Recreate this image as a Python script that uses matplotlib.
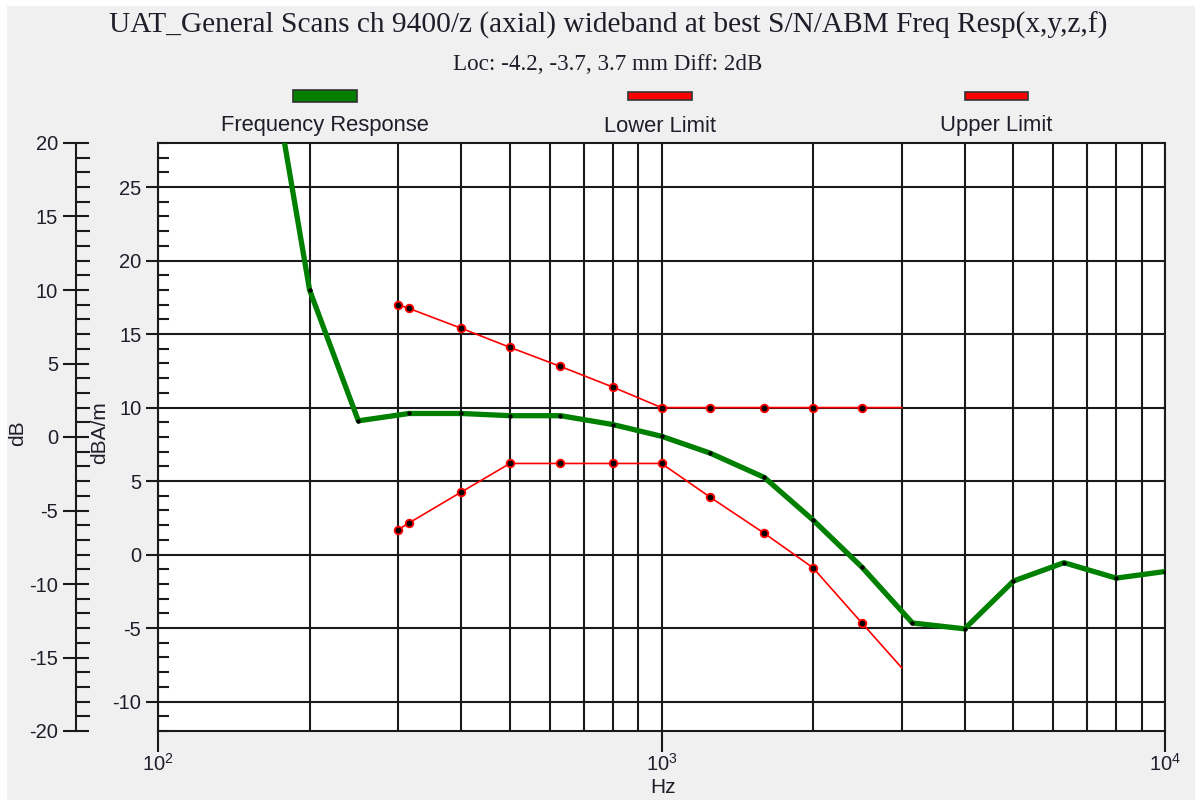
import matplotlib
matplotlib.use('Agg')
import matplotlib.pyplot as plt
from matplotlib.ticker import LogLocator, MultipleLocator, NullFormatter
from matplotlib.patches import Rectangle

# ---------------- data ----------------
freq_resp_hz = [160, 200, 250, 315, 400, 500, 630, 800, 1000, 1250, 1600,
                2000, 2500, 3150, 4000, 5000, 6300, 8000, 10000]
freq_resp_db = [37.5, 18.0, 9.1, 9.6, 9.6, 9.45, 9.45, 8.85, 8.05, 6.9, 5.25,
                2.35, -0.85, -4.65, -5.05, -1.8, -0.55, -1.6, -1.15]

limit_hz = [300, 315, 400, 500, 630, 800, 1000, 1250, 1600, 2000, 2500, 3000]
lower_limit_db = [1.7, 2.15, 4.25, 6.2, 6.2, 6.2, 6.2, 3.9, 1.45, -0.9, -4.65, -7.7]
upper_limit_db = [17.0, 16.75, 15.4, 14.1, 12.8, 11.4, 10.0, 10.0, 10.0, 10.0, 10.0, 10.0]

legend_labels = ["Frequency Response", "Lower Limit", "Upper Limit"]
title_text = "UAT_General Scans ch 9400/z (axial) wideband at best S/N/ABM Freq Resp(x,y,z,f)"
subtitle_text = "Loc: -4.2, -3.7, 3.7 mm Diff: 2dB"

# ---------------- style ----------------
plt.rcParams['font.family'] = ['Liberation Sans', 'DejaVu Sans']
plt.rcParams['mathtext.fontset'] = 'custom'
plt.rcParams['mathtext.rm'] = 'Liberation Sans'
plt.rcParams['mathtext.it'] = 'Liberation Sans'
plt.rcParams['axes.unicode_minus'] = False
TXT = '#1e1e2a'
LINE = '#1a1a1a'
GREEN = '#008000'
RED = '#ff0000'

W, H = 1195, 800
fig = plt.figure(figsize=(W / 100, H / 100), dpi=100, facecolor='white')
fig.patches.append(Rectangle((7 / W, 0), 1, (H - 6) / H, transform=fig.transFigure,
                             facecolor='#f0f0f0', edgecolor='none', zorder=-10))

def px(x, y):
    return x / W, 1 - y / H

ax = fig.add_axes([158 / W, (H - 731) / H, (1165 - 158) / W, (731 - 143) / H])
ax.set_facecolor('white')
ax.set_xscale('log')
ax.set_xlim(100, 10000)
ax.set_ylim(-12, 28)

ax.xaxis.set_major_locator(LogLocator(base=10))
ax.xaxis.set_minor_locator(LogLocator(base=10, subs=range(2, 10)))
ax.xaxis.set_minor_formatter(NullFormatter())
ax.yaxis.set_major_locator(MultipleLocator(5))
ax.yaxis.set_minor_locator(MultipleLocator(1))

ax.grid(which='both', axis='x', color=LINE, lw=1.5)
ax.grid(which='major', axis='y', color=LINE, lw=1.5)
for s in ax.spines.values():
    s.set_color(LINE)
    s.set_linewidth(1.5)

ax.tick_params(axis='x', which='major', direction='out', length=15, width=1.5,
               color=LINE, labelsize=14.5, labelcolor=TXT, pad=0.5)
ax.tick_params(axis='x', which='minor', length=0)
ax.tick_params(axis='y', which='major', direction='out', length=9, width=1.5,
               color=LINE, labelsize=14.5, labelcolor=TXT, pad=3)
ax.tick_params(axis='y', which='minor', direction='in', length=8, width=1.5, color=LINE)

# curves
ax.plot(limit_hz, lower_limit_db, color=RED, lw=1.2, marker='o', ms=5.5,
        mfc='black', mec=RED, mew=1.3, markevery=list(range(len(limit_hz) - 1)),
        zorder=3, clip_on=True)
ax.plot(limit_hz, upper_limit_db, color=RED, lw=1.2, marker='o', ms=5.5,
        mfc='black', mec=RED, mew=1.3, markevery=list(range(len(limit_hz) - 1)),
        zorder=3, clip_on=True)
ax.plot(freq_resp_hz, freq_resp_db, color=GREEN, lw=3.8, marker='o', ms=3.2,
        mfc='black', mec='black', mew=0, zorder=4, clip_on=True,
        solid_joinstyle='round')

# outer dB axis
ax2 = ax.twinx()
ax2.set_ylim(-20, 20)
ax2.spines['left'].set_position(('axes', -82 / 1007))
ax2.spines['left'].set_visible(True)
ax2.spines['left'].set_color(LINE)
ax2.spines['left'].set_linewidth(1.5)
for k in ('right', 'top', 'bottom'):
    ax2.spines[k].set_visible(False)
ax2.yaxis.set_ticks_position('left')
ax2.yaxis.set_major_locator(MultipleLocator(5))
ax2.yaxis.set_minor_locator(MultipleLocator(1))
ax2.tick_params(axis='y', which='major', direction='inout', length=19, width=1.5,
                color=LINE, labelsize=14.5, labelcolor=TXT, pad=3.3)
ax2.tick_params(axis='y', which='minor', direction='in', length=10, width=1.5, color=LINE)

# axis labels
fig.text(*px(18, 433), 'dB', rotation=90, ha='center', va='center', size=15, color=TXT)
fig.text(*px(100, 433), 'dBA/m', rotation=90, ha='center', va='center', size=15, color=TXT)
fig.text(*px(663, 793), 'Hz', ha='center', va='baseline', size=15, color=TXT)

# titles
fig.text(*px(608, 33), title_text, ha='center', va='baseline', size=21.2,
         family='Liberation Serif', color=TXT)
fig.text(*px(608, 70), subtitle_text, ha='center', va='baseline', size=16.6,
         family='Liberation Serif', color=TXT)

# legend
legend_boxes = [(293, 357, 90, 101.7, GREEN), (628, 692, 91.7, 100, RED), (965, 1028, 91.7, 100, RED)]
for (x0, x1, y0, y1, c), lab in zip(legend_boxes, legend_labels):
    fig.patches.append(Rectangle((x0 / W, 1 - y1 / H), (x1 - x0) / W, (y1 - y0) / H,
                                 transform=fig.transFigure, facecolor=c,
                                 edgecolor='#333333', lw=1.2))
    fig.text(*px((x0 + x1) / 2, 131.5), lab, ha='center', va='baseline', size=15.8, color=TXT)

fig.savefig('out.png', dpi=100, facecolor=fig.get_facecolor())
